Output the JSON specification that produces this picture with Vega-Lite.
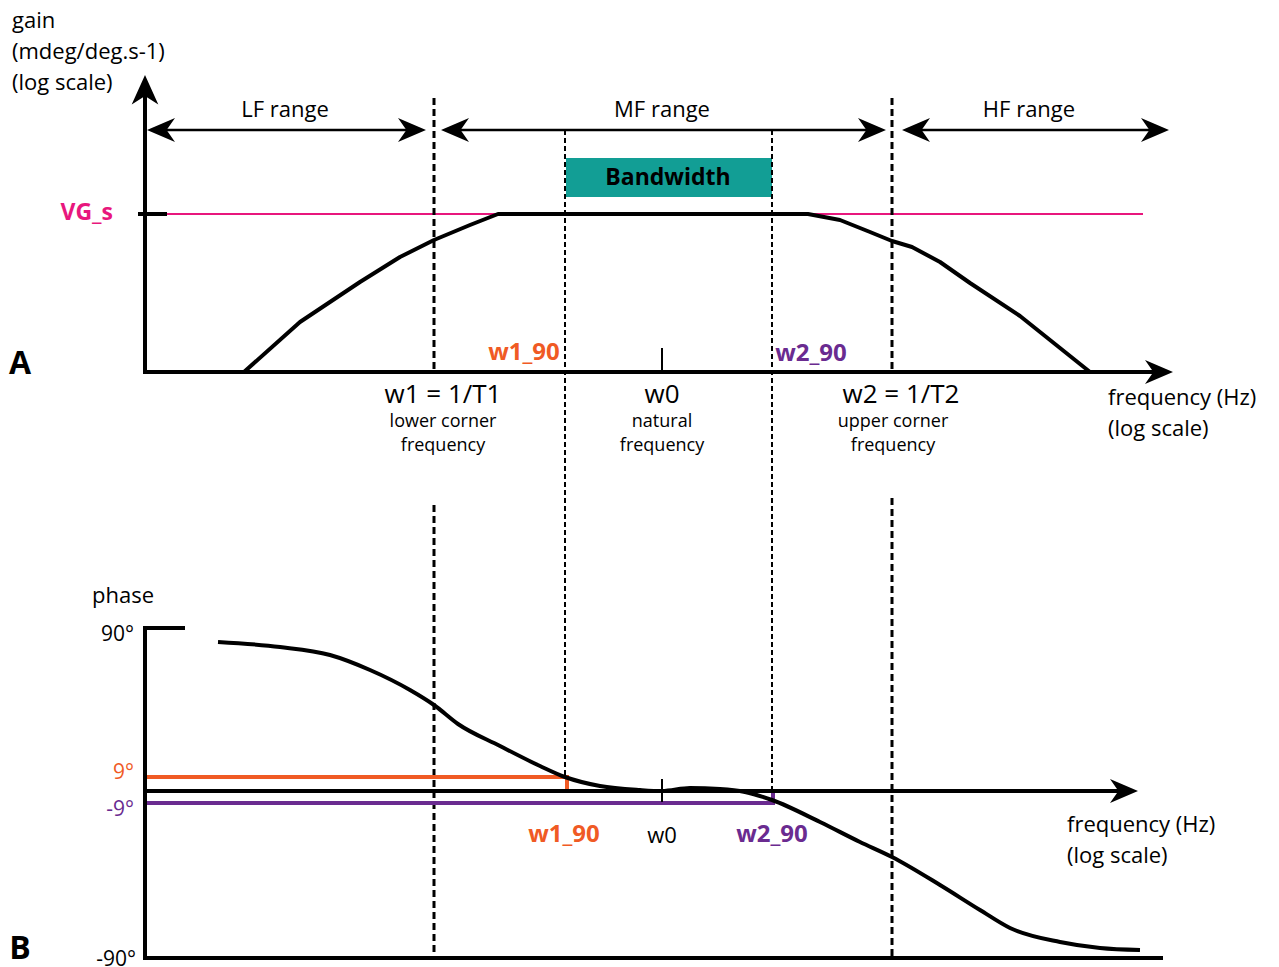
{
  "$schema": "https://vega.github.io/schema/vega-lite/v6.json",
  "width": 1279,
  "height": 967,
  "autosize": {"type": "none"},
  "padding": 0,
  "background": "white",
  "config": {"view": {"stroke": null}, "text": {"font": "Open Sans"}},
  "datasets": {
    "axes": [
      {"x": 145, "y": 372, "x2": 145, "y2": 92},
      {"x": 143, "y": 372, "x2": 1158, "y2": 372},
      {"x": 138, "y": 214, "x2": 167, "y2": 214},
      {"x": 145, "y": 628, "x2": 145, "y2": 960},
      {"x": 143, "y": 628, "x2": 185, "y2": 628},
      {"x": 143, "y": 958, "x2": 1163, "y2": 958},
      {"x": 145, "y": 791, "x2": 1123, "y2": 791}
    ],
    "ticks": [
      {"x": 662, "y": 348, "x2": 662, "y2": 372},
      {"x": 662, "y": 779, "x2": 662, "y2": 802}
    ],
    "ranges": [
      {"x": 160, "y": 130, "x2": 413, "y2": 130},
      {"x": 454, "y": 130, "x2": 873, "y2": 130},
      {"x": 915, "y": 130, "x2": 1156, "y2": 130}
    ],
    "dashThick": [
      {"x": 434, "y": 98, "x2": 434, "y2": 372},
      {"x": 434, "y": 505, "x2": 434, "y2": 958},
      {"x": 892, "y": 98, "x2": 892, "y2": 372},
      {"x": 892, "y": 498, "x2": 892, "y2": 958}
    ],
    "dashThin": [
      {"x": 565, "y": 130, "x2": 565, "y2": 777},
      {"x": 772, "y": 130, "x2": 772, "y2": 800}
    ],
    "pink": [{"x": 167, "y": 214, "x2": 1143, "y2": 214}],
    "orange": [
      {"x": 145, "y": 777, "x2": 569, "y2": 777},
      {"x": 567, "y": 777, "x2": 567, "y2": 791}
    ],
    "purple": [
      {"x": 145, "y": 803, "x2": 775, "y2": 803},
      {"x": 773, "y": 791, "x2": 773, "y2": 803}
    ],
    "band": [{"x": 566, "y": 158, "x2": 772, "y2": 197}],
    "gain": [
      {"x": 244, "y": 372}, {"x": 300, "y": 322}, {"x": 360, "y": 282},
      {"x": 400, "y": 257}, {"x": 434, "y": 240}, {"x": 470, "y": 225},
      {"x": 498, "y": 214}, {"x": 808, "y": 214}, {"x": 840, "y": 220},
      {"x": 870, "y": 232}, {"x": 892, "y": 241}, {"x": 912, "y": 247},
      {"x": 940, "y": 262}, {"x": 970, "y": 283}, {"x": 1020, "y": 316},
      {"x": 1060, "y": 348}, {"x": 1090, "y": 372}
    ],
    "phase": [
      {"x": 218, "y": 642}, {"x": 280, "y": 647}, {"x": 330, "y": 655},
      {"x": 370, "y": 670}, {"x": 410, "y": 690}, {"x": 434, "y": 705},
      {"x": 458, "y": 724}, {"x": 500, "y": 746}, {"x": 540, "y": 766},
      {"x": 565, "y": 777}, {"x": 600, "y": 786}, {"x": 640, "y": 790},
      {"x": 662, "y": 791}, {"x": 690, "y": 788}, {"x": 720, "y": 789},
      {"x": 745, "y": 792}, {"x": 772, "y": 800}, {"x": 820, "y": 822},
      {"x": 860, "y": 842}, {"x": 892, "y": 857}, {"x": 940, "y": 885},
      {"x": 980, "y": 910}, {"x": 1010, "y": 928}, {"x": 1060, "y": 942},
      {"x": 1100, "y": 948}, {"x": 1140, "y": 950}
    ],
    "headUp": [{"x": 145, "y": 75}],
    "headRight": [
      {"x": 1173, "y": 372}, {"x": 1138, "y": 791},
      {"x": 426, "y": 130}, {"x": 886, "y": 130}, {"x": 1169, "y": 130}
    ],
    "headLeft": [
      {"x": 147, "y": 130}, {"x": 441, "y": 130}, {"x": 902, "y": 130}
    ],
    "txtLeft": [
      {"x": 12, "y": 21, "t": "gain"},
      {"x": 12, "y": 52, "t": "(mdeg/deg.s-1)"},
      {"x": 12, "y": 83, "t": "(log scale)"},
      {"x": 1108, "y": 398, "t": "frequency (Hz)"},
      {"x": 1108, "y": 429, "t": "(log scale)"},
      {"x": 92, "y": 596, "t": "phase"},
      {"x": 1067, "y": 825, "t": "frequency (Hz)"},
      {"x": 1067, "y": 856, "t": "(log scale)"}
    ],
    "txtCenter": [
      {"x": 285, "y": 110, "t": "LF range"},
      {"x": 662, "y": 110, "t": "MF range"},
      {"x": 1029, "y": 110, "t": "HF range"},
      {"x": 662, "y": 836, "t": "w0"}
    ],
    "txtBig": [
      {"x": 443, "y": 395, "t": "w1 = 1/T1"},
      {"x": 662, "y": 395, "t": "w0"},
      {"x": 901, "y": 395, "t": "w2 = 1/T2"}
    ],
    "txtSmall": [
      {"x": 443, "y": 422, "t": "lower corner"},
      {"x": 443, "y": 446, "t": "frequency"},
      {"x": 662, "y": 422, "t": "natural"},
      {"x": 662, "y": 446, "t": "frequency"},
      {"x": 893, "y": 422, "t": "upper corner"},
      {"x": 893, "y": 446, "t": "frequency"}
    ],
    "txtDeg": [
      {"x": 134, "y": 635, "t": "90°"},
      {"x": 136, "y": 960, "t": "-90°"}
    ],
    "txtPanel": [
      {"x": 20, "y": 364, "t": "A"},
      {"x": 20, "y": 949, "t": "B"}
    ],
    "txtVG": [{"x": 113, "y": 213, "t": "VG_s"}],
    "txtBand": [{"x": 668, "y": 178, "t": "Bandwidth"}],
    "txtOrangeBold": [
      {"x": 524, "y": 353, "t": "w1_90"},
      {"x": 564, "y": 835, "t": "w1_90"}
    ],
    "txtPurpleBold": [
      {"x": 811, "y": 354, "t": "w2_90"},
      {"x": 772, "y": 835, "t": "w2_90"}
    ],
    "txtOrange": [{"x": 134, "y": 773, "t": "9°"}],
    "txtPurple": [{"x": 134, "y": 810, "t": "-9°"}]
  },
  "layer": [
    {
      "data": {"name": "band"},
      "mark": {"type": "rect", "color": "#129e95"},
      "encoding": {
        "x": {"field": "x", "type": "quantitative", "scale": {"domain": [0, 1279], "nice": false, "zero": false}, "axis": null},
        "y": {"field": "y", "type": "quantitative", "scale": {"domain": [0, 967], "nice": false, "zero": false, "reverse": true}, "axis": null},
        "x2": {"field": "x2"},
        "y2": {"field": "y2"}
      }
    },
    {
      "data": {"name": "pink"},
      "mark": {"type": "rule", "color": "#e8177d", "strokeWidth": 2},
      "encoding": {
        "x": {"field": "x", "type": "quantitative"},
        "y": {"field": "y", "type": "quantitative"},
        "x2": {"field": "x2"},
        "y2": {"field": "y2"}
      }
    },
    {
      "data": {"name": "dashThick"},
      "mark": {"type": "rule", "color": "black", "strokeWidth": 3, "strokeDash": [7, 4]},
      "encoding": {
        "x": {"field": "x", "type": "quantitative"},
        "y": {"field": "y", "type": "quantitative"},
        "x2": {"field": "x2"},
        "y2": {"field": "y2"}
      }
    },
    {
      "data": {"name": "dashThin"},
      "mark": {"type": "rule", "color": "black", "strokeWidth": 2, "strokeDash": [5, 3]},
      "encoding": {
        "x": {"field": "x", "type": "quantitative"},
        "y": {"field": "y", "type": "quantitative"},
        "x2": {"field": "x2"},
        "y2": {"field": "y2"}
      }
    },
    {
      "data": {"name": "orange"},
      "mark": {"type": "rule", "color": "#f05a24", "strokeWidth": 4},
      "encoding": {
        "x": {"field": "x", "type": "quantitative"},
        "y": {"field": "y", "type": "quantitative"},
        "x2": {"field": "x2"},
        "y2": {"field": "y2"}
      }
    },
    {
      "data": {"name": "purple"},
      "mark": {"type": "rule", "color": "#6a2b90", "strokeWidth": 4},
      "encoding": {
        "x": {"field": "x", "type": "quantitative"},
        "y": {"field": "y", "type": "quantitative"},
        "x2": {"field": "x2"},
        "y2": {"field": "y2"}
      }
    },
    {
      "data": {"name": "axes"},
      "mark": {"type": "rule", "color": "black", "strokeWidth": 4},
      "encoding": {
        "x": {"field": "x", "type": "quantitative"},
        "y": {"field": "y", "type": "quantitative"},
        "x2": {"field": "x2"},
        "y2": {"field": "y2"}
      }
    },
    {
      "data": {"name": "ticks"},
      "mark": {"type": "rule", "color": "black", "strokeWidth": 2},
      "encoding": {
        "x": {"field": "x", "type": "quantitative"},
        "y": {"field": "y", "type": "quantitative"},
        "x2": {"field": "x2"},
        "y2": {"field": "y2"}
      }
    },
    {
      "data": {"name": "ranges"},
      "mark": {"type": "rule", "color": "black", "strokeWidth": 2.5},
      "encoding": {
        "x": {"field": "x", "type": "quantitative"},
        "y": {"field": "y", "type": "quantitative"},
        "x2": {"field": "x2"},
        "y2": {"field": "y2"}
      }
    },
    {
      "data": {"name": "gain"},
      "mark": {"type": "line", "color": "black", "strokeWidth": 4, "strokeJoin": "round"},
      "encoding": {
        "x": {"field": "x", "type": "quantitative"},
        "y": {"field": "y", "type": "quantitative"}
      }
    },
    {
      "data": {"name": "phase"},
      "mark": {"type": "line", "color": "black", "strokeWidth": 4, "interpolate": "monotone"},
      "encoding": {
        "x": {"field": "x", "type": "quantitative"},
        "y": {"field": "y", "type": "quantitative"}
      }
    },
    {
      "data": {"name": "headUp"},
      "mark": {"type": "point", "filled": true, "color": "black", "opacity": 1, "size": 784, "shape": "M0,0 L-0.95,2.1 L0,1.5 L0.95,2.1 Z"},
      "encoding": {
        "x": {"field": "x", "type": "quantitative"},
        "y": {"field": "y", "type": "quantitative"}
      }
    },
    {
      "data": {"name": "headRight"},
      "mark": {"type": "point", "filled": true, "color": "black", "opacity": 1, "size": 784, "shape": "M0,0 L-2,-0.85 L-1.4,0 L-2,0.85 Z"},
      "encoding": {
        "x": {"field": "x", "type": "quantitative"},
        "y": {"field": "y", "type": "quantitative"}
      }
    },
    {
      "data": {"name": "headLeft"},
      "mark": {"type": "point", "filled": true, "color": "black", "opacity": 1, "size": 784, "shape": "M0,0 L2,-0.85 L1.4,0 L2,0.85 Z"},
      "encoding": {
        "x": {"field": "x", "type": "quantitative"},
        "y": {"field": "y", "type": "quantitative"}
      }
    },
    {
      "data": {"name": "txtLeft"},
      "mark": {"type": "text", "align": "left", "baseline": "middle", "fontSize": 22, "color": "black"},
      "encoding": {
        "x": {"field": "x", "type": "quantitative"},
        "y": {"field": "y", "type": "quantitative"},
        "text": {"field": "t"}
      }
    },
    {
      "data": {"name": "txtCenter"},
      "mark": {"type": "text", "align": "center", "baseline": "middle", "fontSize": 22, "color": "black"},
      "encoding": {
        "x": {"field": "x", "type": "quantitative"},
        "y": {"field": "y", "type": "quantitative"},
        "text": {"field": "t"}
      }
    },
    {
      "data": {"name": "txtBig"},
      "mark": {"type": "text", "align": "center", "baseline": "middle", "fontSize": 26, "color": "black"},
      "encoding": {
        "x": {"field": "x", "type": "quantitative"},
        "y": {"field": "y", "type": "quantitative"},
        "text": {"field": "t"}
      }
    },
    {
      "data": {"name": "txtSmall"},
      "mark": {"type": "text", "align": "center", "baseline": "middle", "fontSize": 18, "color": "black"},
      "encoding": {
        "x": {"field": "x", "type": "quantitative"},
        "y": {"field": "y", "type": "quantitative"},
        "text": {"field": "t"}
      }
    },
    {
      "data": {"name": "txtDeg"},
      "mark": {"type": "text", "align": "right", "baseline": "middle", "fontSize": 21, "color": "black"},
      "encoding": {
        "x": {"field": "x", "type": "quantitative"},
        "y": {"field": "y", "type": "quantitative"},
        "text": {"field": "t"}
      }
    },
    {
      "data": {"name": "txtPanel"},
      "mark": {"type": "text", "align": "center", "baseline": "middle", "fontSize": 32, "fontWeight": "bold", "color": "black"},
      "encoding": {
        "x": {"field": "x", "type": "quantitative"},
        "y": {"field": "y", "type": "quantitative"},
        "text": {"field": "t"}
      }
    },
    {
      "data": {"name": "txtVG"},
      "mark": {"type": "text", "align": "right", "baseline": "middle", "fontSize": 23, "fontWeight": "bold", "color": "#e8177d"},
      "encoding": {
        "x": {"field": "x", "type": "quantitative"},
        "y": {"field": "y", "type": "quantitative"},
        "text": {"field": "t"}
      }
    },
    {
      "data": {"name": "txtBand"},
      "mark": {"type": "text", "align": "center", "baseline": "middle", "fontSize": 23, "fontWeight": "bold", "color": "black"},
      "encoding": {
        "x": {"field": "x", "type": "quantitative"},
        "y": {"field": "y", "type": "quantitative"},
        "text": {"field": "t"}
      }
    },
    {
      "data": {"name": "txtOrangeBold"},
      "mark": {"type": "text", "align": "center", "baseline": "middle", "fontSize": 24, "fontWeight": "bold", "color": "#f05a24"},
      "encoding": {
        "x": {"field": "x", "type": "quantitative"},
        "y": {"field": "y", "type": "quantitative"},
        "text": {"field": "t"}
      }
    },
    {
      "data": {"name": "txtPurpleBold"},
      "mark": {"type": "text", "align": "center", "baseline": "middle", "fontSize": 24, "fontWeight": "bold", "color": "#6a2b90"},
      "encoding": {
        "x": {"field": "x", "type": "quantitative"},
        "y": {"field": "y", "type": "quantitative"},
        "text": {"field": "t"}
      }
    },
    {
      "data": {"name": "txtOrange"},
      "mark": {"type": "text", "align": "right", "baseline": "middle", "fontSize": 21, "color": "#f05a24"},
      "encoding": {
        "x": {"field": "x", "type": "quantitative"},
        "y": {"field": "y", "type": "quantitative"},
        "text": {"field": "t"}
      }
    },
    {
      "data": {"name": "txtPurple"},
      "mark": {"type": "text", "align": "right", "baseline": "middle", "fontSize": 21, "color": "#6a2b90"},
      "encoding": {
        "x": {"field": "x", "type": "quantitative"},
        "y": {"field": "y", "type": "quantitative"},
        "text": {"field": "t"}
      }
    }
  ]
}
